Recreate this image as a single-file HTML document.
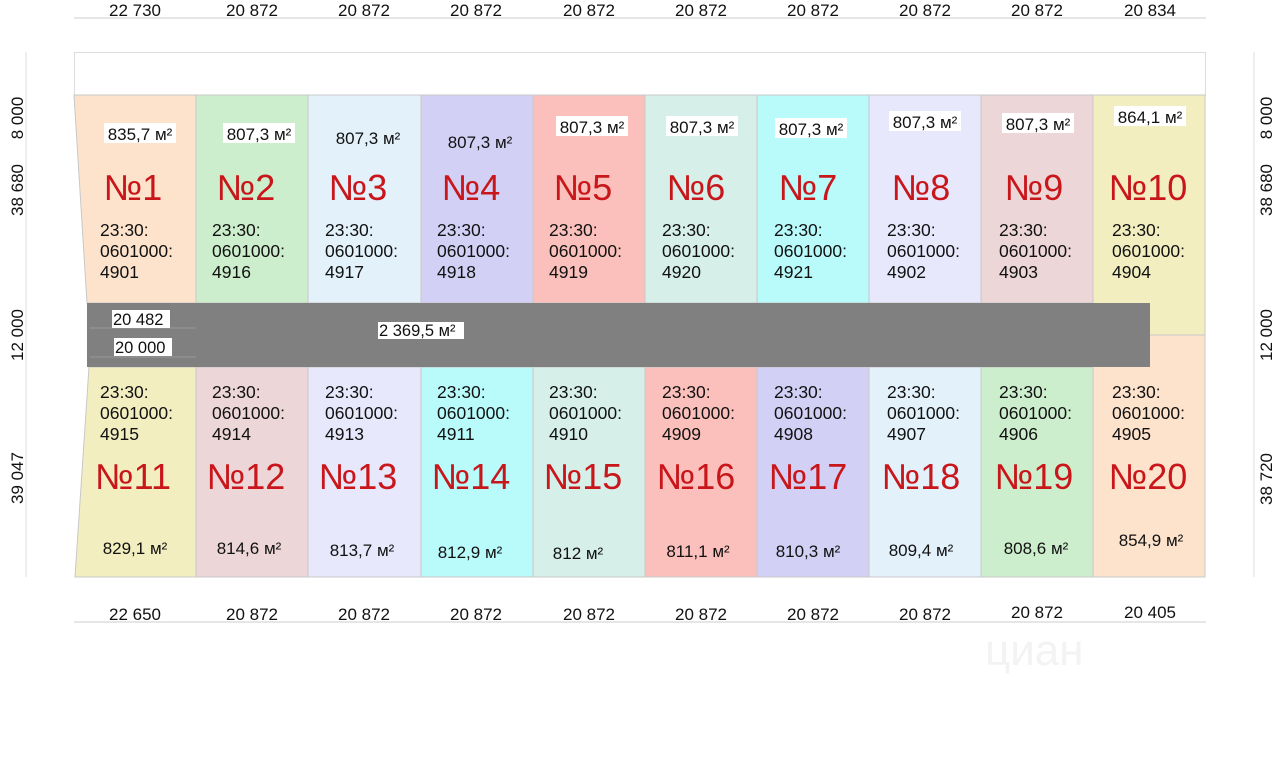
<!DOCTYPE html>
<html><head><meta charset="utf-8"><style>
html,body{margin:0;padding:0;background:#fff;}
svg{display:block;font-family:"Liberation Sans",Arial,sans-serif;}
.n{fill:#c8161b;font-size:36px;text-anchor:middle;}
.c{fill:#111;font-size:17.5px;}
.a{fill:#111;font-size:17px;text-anchor:middle;}
.d{fill:#111;font-size:17px;text-anchor:middle;}
</style></head><body>
<svg width="1280" height="758" viewBox="0 0 1280 758" xmlns="http://www.w3.org/2000/svg">
<rect width="1280" height="758" fill="#fff"/>
<!-- top dims -->
<line x1="74" y1="18" x2="1206" y2="18" stroke="#ccc"/>
<g class="d">
<text x="135" y="16">22 730</text><text x="252" y="16">20 872</text><text x="364" y="16">20 872</text><text x="476" y="16">20 872</text><text x="589" y="16">20 872</text><text x="701" y="16">20 872</text><text x="813" y="16">20 872</text><text x="925" y="16">20 872</text><text x="1037" y="16">20 872</text><text x="1150" y="16">20 834</text>
</g>
<rect x="74.5" y="52.5" width="1131" height="43" fill="#fff" stroke="#ddd"/>
<!-- top plots -->
<g stroke="#c8c8c8" stroke-width="1">
<polygon points="74,95 196,95 196,303 87,303" fill="#fde3cc"/>
<rect x="196" y="95" width="112" height="208" fill="#cdeecd"/>
<rect x="308" y="95" width="113" height="208" fill="#e3f1fb"/>
<rect x="421" y="95" width="112" height="208" fill="#d3d0f5"/>
<rect x="533" y="95" width="112" height="208" fill="#fbc0bb"/>
<rect x="645" y="95" width="112" height="208" fill="#d6efe8"/>
<rect x="757" y="95" width="112" height="208" fill="#b9fafa"/>
<rect x="869" y="95" width="112" height="208" fill="#e8e8fc"/>
<rect x="981" y="95" width="112" height="208" fill="#ecd6d8"/>
<rect x="1093" y="95" width="112" height="240" fill="#f2eec0"/>
<!-- bottom plots -->
<polygon points="89,367 196,367 196,577 75,577" fill="#f2eec0"/>
<rect x="196" y="367" width="112" height="210" fill="#ecd6d8"/>
<rect x="308" y="367" width="113" height="210" fill="#e8e8fc"/>
<rect x="421" y="367" width="112" height="210" fill="#b9fafa"/>
<rect x="533" y="367" width="112" height="210" fill="#d6efe8"/>
<rect x="645" y="367" width="112" height="210" fill="#fbc0bb"/>
<rect x="757" y="367" width="112" height="210" fill="#d3d0f5"/>
<rect x="869" y="367" width="112" height="210" fill="#e3f1fb"/>
<rect x="981" y="367" width="112" height="210" fill="#cdeecd"/>
<rect x="1093" y="335" width="112" height="242" fill="#fde3cc"/>
</g>
<!-- road -->
<rect x="87" y="303" width="1063" height="64" fill="#808080"/>
<line x1="90" y1="328" x2="196" y2="328" stroke="#999"/>
<line x1="90" y1="357" x2="196" y2="357" stroke="#999"/>
<rect x="112" y="310" width="58" height="18" fill="#fff"/><text x="113" y="325" style="font-size:16.5px" fill="#111">20 482</text>
<rect x="114" y="338" width="58" height="18" fill="#fff"/><text x="115" y="353" style="font-size:16.5px" fill="#111">20 000</text>
<rect x="378" y="322" width="86" height="17" fill="#fff"/><text x="379" y="336" style="font-size:16.5px" fill="#111">2 369,5 м²</text>
<!-- top area labels -->
<g class="a">
<rect x="104" y="123" width="72" height="20" fill="#fff"/><text x="140" y="140">835,7 м²</text>
<rect x="223" y="123" width="72" height="20" fill="#fff"/><text x="259" y="140">807,3 м²</text>
<text x="368" y="144">807,3 м²</text>
<text x="480" y="148">807,3 м²</text>
<rect x="556" y="116" width="72" height="20" fill="#fff"/><text x="592" y="133">807,3 м²</text>
<rect x="666" y="116" width="72" height="20" fill="#fff"/><text x="702" y="133">807,3 м²</text>
<rect x="775" y="118" width="72" height="20" fill="#fff"/><text x="811" y="135">807,3 м²</text>
<rect x="889" y="111" width="72" height="20" fill="#fff"/><text x="925" y="128">807,3 м²</text>
<rect x="1002" y="113" width="72" height="20" fill="#fff"/><text x="1038" y="130">807,3 м²</text>
<rect x="1114" y="106" width="72" height="20" fill="#fff"/><text x="1150" y="123">864,1 м²</text>
</g>
<!-- top numbers -->
<g class="n">
<text x="133" y="200">№1</text><text x="246" y="200">№2</text><text x="358" y="200">№3</text><text x="471" y="200">№4</text><text x="583" y="200">№5</text><text x="696" y="200">№6</text><text x="808" y="200">№7</text><text x="921" y="200">№8</text><text x="1034" y="200">№9</text><text x="1148" y="200">№10</text>
</g>
<g class="c">
<text x="100" y="236">23:30:</text><text x="100" y="257">0601000:</text><text x="100" y="278">4901</text>
<text x="212" y="236">23:30:</text><text x="212" y="257">0601000:</text><text x="212" y="278">4916</text>
<text x="325" y="236">23:30:</text><text x="325" y="257">0601000:</text><text x="325" y="278">4917</text>
<text x="437" y="236">23:30:</text><text x="437" y="257">0601000:</text><text x="437" y="278">4918</text>
<text x="549" y="236">23:30:</text><text x="549" y="257">0601000:</text><text x="549" y="278">4919</text>
<text x="662" y="236">23:30:</text><text x="662" y="257">0601000:</text><text x="662" y="278">4920</text>
<text x="774" y="236">23:30:</text><text x="774" y="257">0601000:</text><text x="774" y="278">4921</text>
<text x="887" y="236">23:30:</text><text x="887" y="257">0601000:</text><text x="887" y="278">4902</text>
<text x="999" y="236">23:30:</text><text x="999" y="257">0601000:</text><text x="999" y="278">4903</text>
<text x="1112" y="236">23:30:</text><text x="1112" y="257">0601000:</text><text x="1112" y="278">4904</text>
<!-- bottom -->
<text x="100" y="398">23:30:</text><text x="100" y="419">0601000:</text><text x="100" y="440">4915</text>
<text x="212" y="398">23:30:</text><text x="212" y="419">0601000:</text><text x="212" y="440">4914</text>
<text x="325" y="398">23:30:</text><text x="325" y="419">0601000:</text><text x="325" y="440">4913</text>
<text x="437" y="398">23:30:</text><text x="437" y="419">0601000:</text><text x="437" y="440">4911</text>
<text x="549" y="398">23:30:</text><text x="549" y="419">0601000:</text><text x="549" y="440">4910</text>
<text x="662" y="398">23:30:</text><text x="662" y="419">0601000:</text><text x="662" y="440">4909</text>
<text x="774" y="398">23:30:</text><text x="774" y="419">0601000:</text><text x="774" y="440">4908</text>
<text x="887" y="398">23:30:</text><text x="887" y="419">0601000:</text><text x="887" y="440">4907</text>
<text x="999" y="398">23:30:</text><text x="999" y="419">0601000:</text><text x="999" y="440">4906</text>
<text x="1112" y="398">23:30:</text><text x="1112" y="419">0601000:</text><text x="1112" y="440">4905</text>
</g>
<g class="n">
<text x="133" y="489">№11</text><text x="246" y="489">№12</text><text x="358" y="489">№13</text><text x="471" y="489">№14</text><text x="583" y="489">№15</text><text x="696" y="489">№16</text><text x="808" y="489">№17</text><text x="921" y="489">№18</text><text x="1034" y="489">№19</text><text x="1148" y="489">№20</text>
</g>
<g class="a">
<text x="135" y="554">829,1 м²</text>
<text x="249" y="554">814,6 м²</text>
<text x="362" y="556">813,7 м²</text>
<text x="470" y="558">812,9 м²</text>
<text x="578" y="559">812 м²</text>
<text x="698" y="557">811,1 м²</text>
<text x="808" y="557">810,3 м²</text>
<text x="921" y="556">809,4 м²</text>
<text x="1036" y="554">808,6 м²</text>
<text x="1151" y="546">854,9 м²</text>
</g>
<!-- bottom dims -->
<line x1="74" y1="622" x2="1206" y2="622" stroke="#ccc"/>
<g class="d">
<text x="135" y="620">22 650</text><text x="252" y="620">20 872</text><text x="364" y="620">20 872</text><text x="476" y="620">20 872</text><text x="589" y="620">20 872</text><text x="701" y="620">20 872</text><text x="813" y="620">20 872</text><text x="925" y="620">20 872</text><text x="1037" y="618">20 872</text><text x="1150" y="618">20 405</text>
</g>
<!-- side dims -->
<line x1="26" y1="52" x2="26" y2="577" stroke="#ddd"/>
<line x1="1254" y1="52" x2="1254" y2="577" stroke="#ddd"/>
<g class="d">
<text transform="translate(23,118) rotate(-90)">8 000</text>
<text transform="translate(23,190) rotate(-90)">38 680</text>
<text transform="translate(23,335) rotate(-90)">12 000</text>
<text transform="translate(23,478) rotate(-90)">39 047</text>
<text transform="translate(1272,118) rotate(-90)">8 000</text>
<text transform="translate(1272,190) rotate(-90)">38 680</text>
<text transform="translate(1272,335) rotate(-90)">12 000</text>
<text transform="translate(1272,479) rotate(-90)">38 720</text>
</g>
<text x="985" y="665" style="font-size:44px" fill="#f3f3f3">циан</text>
</svg>
</body></html>
